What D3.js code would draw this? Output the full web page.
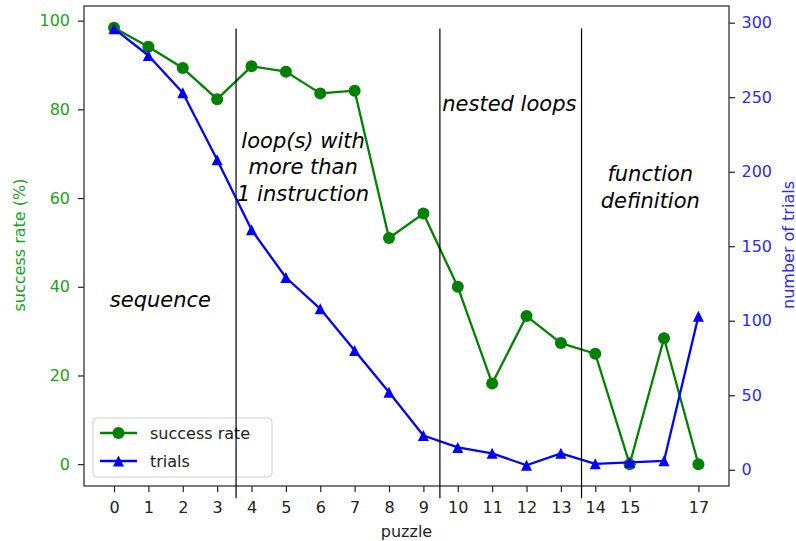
<!DOCTYPE html>
<html>
<head>
<meta charset="utf-8">
<script src="https://cdn.jsdelivr.net/npm/d3@7"></script>
<style>
  body { margin: 0; background: #fff; }
  svg { display: block; font-family: "DejaVu Sans", sans-serif; }
</style>
</head>
<body>
<svg id="chart" width="796" height="541"></svg>
<script>
// puzzle index for each point
var puzzles = [0, 1, 2, 3, 4, 5, 6, 7, 8, 9, 10, 11, 12, 13, 14, 15, 16, 17];
// success rate (%) per puzzle
var successRate = [98.4, 94.1, 89.3, 82.3, 89.7, 88.5, 83.6, 84.2, 51.0, 56.5, 40.0, 18.2, 33.4, 27.3, 24.9, 0, 28.4, 0];
// number of trials per puzzle
var trials = [296, 278, 253, 208, 161, 129, 108, 80, 52, 23, 15, 11, 3, 11, 4, 5, 6, 103];
// x tick labels (no 16 in the original)
var xTicks = [0, 1, 2, 3, 4, 5, 6, 7, 8, 9, 10, 11, 12, 13, 14, 15, 17];
var leftTicks = [0, 20, 40, 60, 80, 100];
var rightTicks = [0, 50, 100, 150, 200, 250, 300];
// section separators and section names
var separators = [3.55, 9.48, 13.6];
var sectionNames = [
    {x: 1.35, y: 37.2, lines: ["sequence"]},
    {x: 5.5, y: 67, lines: ["loop(s) with", "more than", "1 instruction"]},
    {x: 11.5, y: 81.3, lines: ["nested loops"]},
    {x: 15.6, y: 62.4, lines: ["function", "definition"]}
];

// plot box (window.top is read-only, so no "top" here)
var plotL = 84, plotR = 729, plotT = 6, plotB = 486;
var green = "#008000", blue = "#0000ff";
var greenText = "#22a022", blueText = "#2a2aff";

var svg = d3.select("#chart");

var x = d3.scaleLinear().domain([-0.873, 17.89]).range([plotL, plotR]);
var yL = d3.scaleLinear().domain([-4.92, 103.3]).range([plotB, plotT]);
var yR = d3.scaleLinear().domain([-10.9, 311.2]).range([plotB, plotT]);

// axes
var xAxis = svg.append("g")
    .attr("transform", "translate(0," + plotB + ")")
    .call(d3.axisBottom(x).tickValues(xTicks).tickFormat(d3.format("d")).tickSize(6).tickPadding(9.5).tickSizeOuter(0));
var lAxis = svg.append("g")
    .attr("transform", "translate(" + plotL + ",0)")
    .call(d3.axisLeft(yL).tickValues(leftTicks).tickSize(6).tickPadding(8).tickSizeOuter(0));
var rAxis = svg.append("g")
    .attr("transform", "translate(" + plotR + ",0)")
    .call(d3.axisRight(yR).tickValues(rightTicks).tickSize(6).tickPadding(6.5).tickSizeOuter(0));

[xAxis, lAxis, rAxis].forEach(function (g) {
    g.select(".domain").remove();
    g.selectAll("text").attr("font-size", "16px").attr("font-family", "DejaVu Sans");
    g.selectAll("line").attr("stroke-width", 1.2).attr("stroke", "#222");
});
xAxis.selectAll("text").attr("fill", "#222");
lAxis.selectAll("text").attr("fill", greenText);
rAxis.selectAll("text").attr("fill", blueText);

// frame
svg.append("rect")
    .attr("x", plotL).attr("y", plotT)
    .attr("width", plotR - plotL).attr("height", plotB - plotT)
    .attr("fill", "none").attr("stroke", "#222").attr("stroke-width", 1.2);

// axis labels
svg.append("text")
    .attr("x", (plotL + plotR) / 2).attr("y", 537)
    .attr("text-anchor", "middle").attr("font-size", "16px").attr("fill", "#222")
    .text("puzzle");
svg.append("text")
    .attr("transform", "translate(25,245) rotate(-90)")
    .attr("text-anchor", "middle").attr("font-size", "16px").attr("fill", greenText)
    .text("success rate (%)");
svg.append("text")
    .attr("transform", "translate(794,245) rotate(-90)")
    .attr("text-anchor", "middle").attr("font-size", "16px").attr("fill", blueText)
    .text("number of trials");

// section labels
sectionNames.forEach(function (s) {
    var t = svg.append("text")
        .attr("text-anchor", "middle")
        .attr("font-size", "21px")
        .attr("font-style", "italic")
        .attr("fill", "#000");
    var n = s.lines.length;
    s.lines.forEach(function (line, i) {
        t.append("tspan")
            .attr("x", x(s.x))
            .attr("y", yL(s.y) + (i - (n - 1) / 2) * 26.7)
            .attr("dy", "0.35em")
            .text(line);
    });
});

// success rate series
var lineL = d3.line().x(function (d, i) { return x(puzzles[i]); }).y(function (d) { return yL(d); });
svg.append("path")
    .datum(successRate)
    .attr("d", lineL)
    .attr("fill", "none").attr("stroke", green).attr("stroke-width", 2.3)
    .attr("stroke-linejoin", "round");
svg.append("g").selectAll("circle")
    .data(successRate)
    .enter().append("circle")
    .attr("cx", function (d, i) { return x(puzzles[i]); })
    .attr("cy", function (d) { return yL(d); })
    .attr("r", 6)
    .attr("fill", green);

// legend (under the trials series and separators)
var legend = svg.append("g").attr("transform", "translate(93,418)");
legend.append("rect")
    .attr("width", 179).attr("height", 59).attr("rx", 4)
    .attr("fill", "#fff").attr("fill-opacity", 0.8)
    .attr("stroke", "#d0d0d0").attr("stroke-width", 1);
var tri = function (s) {
    return "M0," + (-s) + "L" + s + "," + s + "L" + (-s) + "," + s + "Z";
};
var legendItems = [
    {label: "success rate", color: green, shape: "circle"},
    {label: "trials", color: blue, shape: "triangle"}
];
legendItems.forEach(function (d, i) {
    var g = legend.append("g").attr("transform", "translate(0," + (15 + i * 28) + ")");
    g.append("line").attr("x1", 7).attr("x2", 44).attr("y1", 0).attr("y2", 0)
        .attr("stroke", d.color).attr("stroke-width", 2.3);
    if (d.shape == "circle") {
        g.append("circle").attr("cx", 25.5).attr("cy", 0).attr("r", 6).attr("fill", d.color);
    } else {
        g.append("path").attr("d", tri(5.5)).attr("transform", "translate(25.5,0)").attr("fill", d.color);
    }
    g.append("text").attr("x", 57).attr("y", 0).attr("dy", "0.35em")
        .attr("font-size", "16px").attr("fill", "#222").text(d.label);
});

// trials series
var lineR = d3.line().x(function (d, i) { return x(puzzles[i]); }).y(function (d) { return yR(d); });
svg.append("path")
    .datum(trials)
    .attr("d", lineR)
    .attr("fill", "none").attr("stroke", blue).attr("stroke-width", 2.3)
    .attr("stroke-linejoin", "round");
svg.append("g").selectAll("path")
    .data(trials)
    .enter().append("path")
    .attr("d", tri(5.5))
    .attr("transform", function (d, i) { return "translate(" + x(puzzles[i]) + "," + yR(d) + ")"; })
    .attr("fill", blue);

// separators, they run below the axis
svg.append("g").selectAll("line")
    .data(separators)
    .enter().append("line")
    .attr("x1", function (d) { return x(d); })
    .attr("x2", function (d) { return x(d); })
    .attr("y1", yL(98.2))
    .attr("y2", yL(-7.7))
    .attr("stroke", "#000").attr("stroke-width", 1.2);
</script>
</body>
</html>
